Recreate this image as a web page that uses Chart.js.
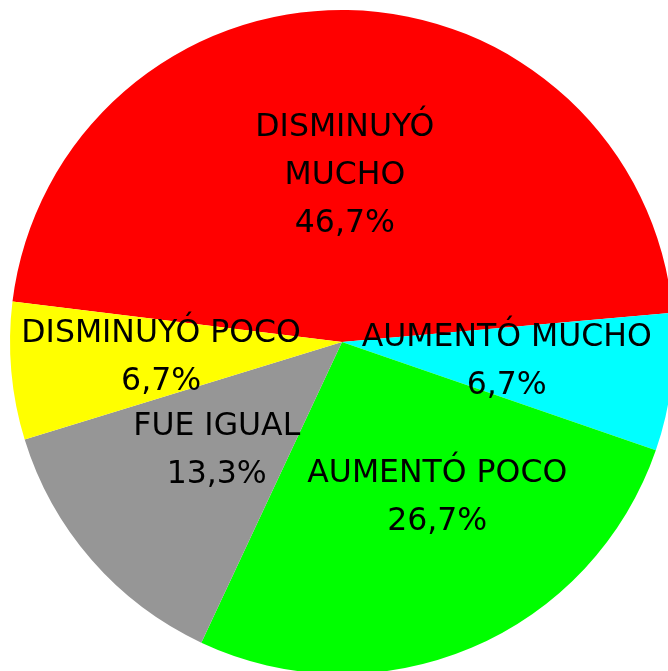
<!DOCTYPE html>
<html>
<head>
<meta charset="utf-8">
<script src="https://cdn.jsdelivr.net/npm/chart.js@4/dist/chart.umd.min.js"></script>
<style>
  html, body { margin: 0; padding: 0; background: #fff; overflow: hidden; }
  #wrap { position: absolute; left: 0; top: 0; width: 684px; height: 684px; }
</style>
</head>
<body>
<div id="wrap"><canvas id="pie" width="684" height="684"></canvas></div>
<script>
// data
const categories = ['DISMINUYÓ MUCHO', 'AUMENTÓ MUCHO', 'AUMENTÓ POCO', 'FUE IGUAL', 'DISMINUYÓ POCO'];
const percents = [46.7, 6.7, 26.7, 13.3, 6.7];
const colors = ['#ff0000', '#00ffff', '#00ff00', '#969696', '#ffff00'];

// how each label is split into lines
const labelLines = [
  ['DISMINUYÓ', 'MUCHO'],
  ['AUMENTÓ MUCHO'],
  ['AUMENTÓ POCO'],
  ['FUE IGUAL'],
  ['DISMINUYÓ POCO']
];

// label placement: fraction of radius, angle shift in degrees
const labelPlace = [
  { r: 0.5, shift: 0 },
  { r: 0.5, shift: 0 },
  { r: 0.55, shift: -8.5 },
  { r: 0.5, shift: 0 },
  { r: 0.547, shift: 0 }
];

const fmt = v => v.toFixed(1).replace('.', ',') + '%';

const sliceLabels = {
  id: 'sliceLabels',
  afterDatasetsDraw(chart) {
    const ctx = chart.ctx;
    const arcs = chart.getDatasetMeta(0).data;
    ctx.save();
    ctx.font = '31.5px "DejaVu Sans"';
    ctx.fillStyle = '#000';
    ctx.textAlign = 'center';
    ctx.textBaseline = 'middle';
    const lh = 48;
    arcs.forEach((arc, i) => {
      const p = labelPlace[i];
      const mid = (arc.startAngle + arc.endAngle) / 2 + p.shift * Math.PI / 180;
      const r = arc.outerRadius * p.r;
      const cx = arc.x + Math.cos(mid) * r;
      const cy = arc.y + Math.sin(mid) * r;
      const lines = [...labelLines[i], fmt(percents[i])];
      const top = cy - (lines.length - 1) * lh / 2;
      lines.forEach((t, k) => ctx.fillText(t, cx, top + k * lh));
    });
    ctx.restore();
  }
};

new Chart(document.getElementById('pie'), {
  type: 'pie',
  data: {
    labels: categories,
    datasets: [{
      data: percents,
      backgroundColor: colors,
      borderWidth: 0,
      hoverOffset: 0,
      offset: 0
    }]
  },
  options: {
    responsive: false,
    animation: false,
    events: [],
    rotation: 277,
    layout: { padding: 10 },
    plugins: {
      legend: { display: false },
      tooltip: { enabled: false }
    }
  },
  plugins: [sliceLabels]
});
</script>
</body>
</html>
